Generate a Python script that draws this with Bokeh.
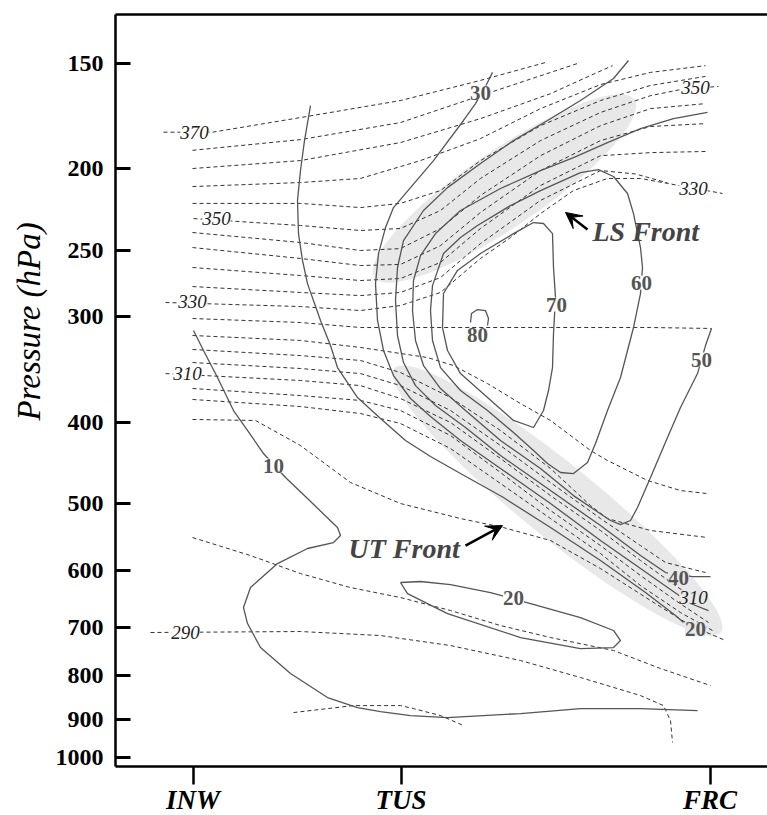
from bokeh.plotting import figure
from bokeh.models import (Range1d, FixedTicker, LinearAxis, ColumnDataSource, LabelSet,
                          Label, Arrow, VeeHead, NumeralTickFormatter, Title)
from bokeh.embed import file_html
from bokeh.resources import INLINE
from bokeh.core.properties import value

# ---------------- data ----------------
station_names = ["INW", "TUS", "FRC"]
station_km = [155, 571, 1189]
pressure_ticks = [150, 200, 250, 300, 400, 500, 600, 700, 800, 900, 1000]

# isotachs (m/s): distance along section (km) and pressure (hPa)
isotach_10_km = [156, 176, 204, 236, 264, 296, 340, 384, 444, 450, 436, 384, 324, 270, 256, 264, 290, 350, 424, 484, 530, 590, 664, 810, 930, 1050, 1164]
isotach_10_hpa = [311.3, 328.8, 354.0, 387.4, 409.1, 435.7, 465.2, 492.7, 533.4, 545.2, 555.7, 564.8, 588.5, 628.4, 663.7, 693.3, 740.3, 794.7, 848.7, 872.2, 881.7, 891.5, 896.3, 886.6, 874.6, 874.6, 879.3]
isotach_20_km = [390, 378, 370, 364, 366, 374, 384, 410, 430, 444, 484, 530, 580, 630, 690, 776, 870, 970, 1060, 1120, 1136]
isotach_20_hpa = [168.4, 185.3, 201.1, 218.2, 238.9, 257.1, 273.9, 302.9, 324.4, 344.5, 373.9, 396.0, 420.5, 439.3, 460.2, 491.4, 533.4, 583.6, 637.0, 678.4, 691.4]
isotach_20b_km = [570, 610, 670, 750, 830, 930, 996, 1010, 996, 930, 810, 664, 584, 570]
isotach_20b_hpa = [619.8, 618.1, 623.2, 637.0, 656.4, 682.1, 706.6, 726.2, 740.3, 742.3, 720.3, 674.7, 638.8, 619.8]
isotach_30_km = [754, 742, 720, 696, 636, 590, 556, 540, 526, 520, 524, 536, 556, 590, 630, 690, 770, 870, 970, 1070, 1150, 1186]
isotach_30_hpa = [153.8, 159.0, 167.5, 175.4, 195.7, 210.7, 222.5, 235.0, 252.3, 273.9, 302.9, 328.8, 352.1, 374.9, 393.8, 420.5, 453.9, 499.5, 552.6, 608.1, 656.4, 669.1]
isotach_40_km = [1026, 996, 930, 864, 796, 730, 664, 616, 576, 564, 560, 564, 576, 600, 640, 700, 770, 870, 970, 1050, 1100, 1154, 1190]
isotach_40_hpa = [148.9, 156.4, 166.1, 175.4, 185.3, 197.3, 210.7, 224.3, 243.5, 262.1, 286.8, 315.6, 339.8, 361.9, 382.2, 405.8, 438.1, 482.1, 530.5, 575.8, 603.1, 609.8, 609.8]
isotach_50_km = [1184, 1116, 1050, 984, 916, 850, 770, 690, 640, 610, 596, 594, 600, 616, 650, 700, 770, 850, 916, 960, 990, 1010, 1030, 1044, 1070, 1104, 1130, 1164, 1180, 1192]
isotach_50_hpa = [171.6, 174.5, 179.3, 186.3, 194.1, 201.1, 211.2, 224.3, 238.9, 253.7, 271.6, 294.8, 319.9, 342.6, 364.8, 387.4, 420.5, 453.9, 488.8, 509.1, 523.2, 529.0, 523.2, 505.0, 465.2, 417.1, 384.3, 350.2, 324.4, 309.6]
isotach_60_km = [930, 966, 996, 1024, 1036, 1050, 1054, 1050, 1036, 1010, 984, 960, 944, 916, 890, 864, 836, 796, 744, 690, 650, 634, 630, 634, 656, 690, 724, 790, 850, 930]
isotach_60_hpa = [202.2, 200.6, 204.4, 214.1, 226.2, 248.2, 262.1, 281.4, 308.8, 354.0, 387.4, 424.0, 446.6, 460.2, 458.9, 447.8, 432.1, 411.4, 387.4, 366.8, 344.5, 319.9, 294.8, 275.4, 252.3, 241.5, 233.7, 221.3, 212.4, 202.2]
isotach_70_km = [836, 856, 874, 876, 880, 876, 874, 866, 856, 836, 796, 744, 690, 664, 654, 656, 684, 730, 796, 836]
isotach_70_hpa = [231.8, 232.4, 238.9, 262.1, 284.5, 313.9, 344.5, 366.8, 387.4, 405.8, 398.1, 373.9, 350.2, 328.8, 308.8, 281.4, 264.2, 252.3, 238.9, 231.8]
isotach_80_km = [710, 712, 724, 740, 746, 744]
isotach_80_hpa = [304.6, 297.2, 294.0, 294.8, 301.3, 307.1]

# isentropes (K)
theta_370_km = [96, 194, 370, 570, 730, 860]
theta_370_hpa = [181.1, 181.1, 174.0, 166.1, 157.2, 149.7]
theta_366_km = [154, 370, 570, 730, 924]
theta_366_hpa = [190.3, 184.8, 176.4, 163.9, 150.1]
theta_362_km = [154, 370, 570, 730, 870, 950, 994]
theta_362_hpa = [200.0, 195.7, 186.3, 174.5, 163.0, 155.1, 151.0]
theta_358_km = [154, 370, 490, 610, 730, 850, 970, 1070, 1180]
theta_358_hpa = [210.1, 207.8, 205.5, 195.7, 184.3, 169.8, 159.0, 153.8, 151.0]
theta_354_km = [154, 370, 490, 570, 650, 730, 850, 970, 1070, 1180]
theta_354_hpa = [220.0, 220.0, 222.5, 220.0, 212.4, 195.7, 177.9, 166.1, 159.4, 155.5]
theta_350_km = [156, 370, 490, 570, 650, 730, 850, 970, 1070, 1130, 1206]
theta_350_hpa = [229.3, 233.7, 236.9, 235.6, 224.3, 205.5, 185.3, 171.6, 163.9, 161.2, 159.8]
theta_346_km = [154, 370, 490, 570, 650, 730, 850, 970, 1070, 1180]
theta_346_hpa = [238.2, 244.8, 250.2, 248.9, 235.6, 215.3, 193.1, 177.9, 169.8, 167.5]
theta_342_km = [154, 370, 490, 570, 650, 730, 850, 970, 1070, 1180]
theta_342_hpa = [248.2, 255.7, 260.7, 259.9, 246.9, 225.5, 201.1, 185.3, 178.3, 176.9]
theta_338_km = [154, 370, 490, 570, 650, 730, 850, 970, 1070, 1180]
theta_338_hpa = [262.1, 267.9, 271.6, 270.1, 258.5, 235.6, 209.5, 193.1, 191.5, 190.9]
theta_334_km = [154, 370, 490, 570, 650, 730, 850, 970, 1040, 1104]
theta_334_hpa = [276.1, 280.6, 283.0, 280.6, 269.4, 245.5, 218.2, 201.1, 203.0, 208.0]
theta_330_km = [100, 370, 490, 570, 650, 730, 790, 850, 916, 984, 1050, 1104, 1214]
theta_330_hpa = [288.4, 291.6, 294.8, 290.8, 280.6, 255.7, 241.5, 226.2, 212.4, 205.5, 205.5, 208.3, 214.1]
theta_326_km = [154, 370, 490, 670, 870, 1070, 1192]
theta_326_hpa = [301.3, 304.6, 308.8, 308.8, 308.8, 308.8, 309.6]
theta_322_km = [154, 370, 490, 624, 676, 744, 810, 870, 950, 984, 1064, 1130, 1184]
theta_322_hpa = [315.6, 319.9, 326.1, 335.2, 342.6, 359.9, 380.1, 398.1, 432.1, 444.1, 469.0, 482.1, 486.1]
theta_318_km = [154, 370, 490, 570, 670, 770, 870, 950, 984, 1070, 1184]
theta_318_hpa = [327.9, 333.4, 337.9, 349.2, 373.9, 409.1, 453.9, 502.3, 520.4, 537.7, 548.1]
theta_314_km = [154, 370, 490, 570, 670, 770, 870, 970, 1050, 1100, 1180]
theta_314_hpa = [339.8, 345.4, 350.2, 361.9, 387.4, 426.3, 471.6, 520.4, 560.3, 586.8, 603.1]
theta_310_km = [100, 370, 490, 570, 670, 770, 870, 970, 1050, 1114, 1146]
theta_310_hpa = [350.2, 356.9, 361.9, 374.9, 400.3, 441.7, 488.8, 537.7, 583.6, 621.5, 640.5]
theta_306_km = [154, 370, 490, 570, 670, 770, 870, 970, 1050, 1120, 1186]
theta_306_hpa = [364.8, 371.9, 376.9, 387.4, 414.8, 458.9, 509.1, 560.3, 608.1, 651.0, 691.4]
theta_302_km = [154, 370, 490, 570, 670, 770, 870, 970, 1050, 1130, 1194]
theta_302_hpa = [375.9, 383.2, 390.6, 401.4, 429.8, 472.9, 520.4, 572.6, 624.9, 672.8, 706.6]
theta_298_km = [154, 280, 370, 470, 570, 690, 776, 870, 970, 1070, 1150, 1220]
theta_298_hpa = [397.0, 398.1, 426.3, 471.6, 499.5, 520.4, 533.4, 552.6, 596.6, 651.0, 697.1, 726.2]
theta_294_km = [154, 270, 370, 470, 570, 670, 770, 870, 996, 1090, 1190]
theta_294_hpa = [548.1, 575.8, 604.8, 628.4, 645.8, 669.1, 697.1, 720.3, 746.3, 784.0, 821.3]
theta_290_km = [70, 370, 530, 670, 810, 930, 1050, 1096, 1110, 1114]
theta_290_hpa = [710.5, 708.6, 716.4, 736.3, 767.0, 803.5, 844.1, 867.5, 903.6, 959.4]
theta_286_km = [356, 476, 570, 596, 650, 696]
theta_286_hpa = [884.2, 867.5, 867.5, 874.6, 891.5, 916.1]

# contour labels
wind_label_text = ["10", "20", "30", "50", "60", "70", "80"]
wind_label_km = [316, 796, 730, 1172, 1052, 882, 724]
wind_label_hpa = [450.2, 645.8, 162.5, 337.0, 273.1, 290.0, 315.6]
wind_label_front_text = ["40", "20"]
wind_label_front_km = [1126, 1160]
wind_label_front_hpa = [611.4, 704.6]
theta_label_text = ["370", "350", "330", "310", "290", "350", "330"]
theta_label_km = [158, 202, 154, 144, 140, 1160, 1156]
theta_label_hpa = [181.1, 229.3, 287.6, 350.2, 710.5, 160.3, 211.2]
theta_label_front_text = ["310"]
theta_label_front_km = [1156]
theta_label_front_hpa = [645.8]

# ---------------- figure ----------------
p = figure(frame_width=652, frame_height=752, x_range=Range1d(0, 1304), y_range=Range1d(1024.6, 131.3),
           y_axis_type="log", output_backend="svg", toolbar_location=None,
           min_border_left=115, min_border_right=0, min_border_top=14, min_border_bottom=49)
p.outline_line_color = None
p.xgrid.visible = False
p.ygrid.visible = False

SERIF = "Liberation Serif"

yax = p.yaxis[0]
yax.ticker = FixedTicker(ticks=pressure_ticks)
yax.formatter = NumeralTickFormatter(format="0")
yax.major_tick_in = 15
yax.major_tick_out = 0
yax.major_tick_line_width = 3
yax.minor_tick_line_color = None
yax.axis_line_width = 2.5
yax.major_label_text_font = SERIF
yax.major_label_text_font_style = "bold"
yax.major_label_text_font_size = "24px"
yax.major_label_text_color = "black"
yax.major_label_standoff = 12

xax = p.xaxis[0]
xax.ticker = FixedTicker(ticks=station_km)
xax.major_label_overrides = {k: n for k, n in zip(station_km, station_names)}
xax.major_tick_in = 0
xax.major_tick_out = 18
xax.major_tick_line_width = 2.5
xax.minor_tick_line_color = None
xax.axis_line_width = 2.5
xax.major_label_text_font = SERIF
xax.major_label_text_font_style = "bold italic"
xax.major_label_text_font_size = "27px"
xax.major_label_text_color = "black"
xax.major_label_standoff = 0

top = LinearAxis(ticker=FixedTicker(ticks=[]), axis_line_width=2.5,
                 major_label_text_font_size="0px", major_tick_line_color=None,
                 minor_tick_line_color=None)
p.add_layout(top, "above")

# y-axis title, placed towards the upper part of the axis as in the original
p.add_layout(Title(text="Pressure (hPa)", align="left", offset=346, vertical_align="top",
                   standoff=8, text_font=SERIF, text_font_style="italic",
                   text_font_size="33px", text_color="black"), "left")

# frontal zones (shaded)
SHADE = "#e8e8e8"
p.ellipse(x=[778], y=[211.2], width=[315], height=[76], angle=[0.60],
          width_units="screen", height_units="screen", fill_color=SHADE, line_color=None)
p.ellipse(x=[884], y=[495.4], width=[420], height=[74], angle=[-0.68],
          width_units="screen", height_units="screen", fill_color=SHADE, line_color=None)

isotachs = [
    (isotach_10_km, isotach_10_hpa), (isotach_20_km, isotach_20_hpa),
    (isotach_20b_km, isotach_20b_hpa), (isotach_30_km, isotach_30_hpa),
    (isotach_40_km, isotach_40_hpa), (isotach_50_km, isotach_50_hpa),
    (isotach_60_km, isotach_60_hpa), (isotach_70_km, isotach_70_hpa),
    (isotach_80_km, isotach_80_hpa),
]
isentropes = [
    (theta_370_km, theta_370_hpa), (theta_366_km, theta_366_hpa), (theta_362_km, theta_362_hpa),
    (theta_358_km, theta_358_hpa), (theta_354_km, theta_354_hpa), (theta_350_km, theta_350_hpa),
    (theta_346_km, theta_346_hpa), (theta_342_km, theta_342_hpa), (theta_338_km, theta_338_hpa),
    (theta_334_km, theta_334_hpa), (theta_330_km, theta_330_hpa), (theta_326_km, theta_326_hpa),
    (theta_322_km, theta_322_hpa), (theta_318_km, theta_318_hpa), (theta_314_km, theta_314_hpa),
    (theta_310_km, theta_310_hpa), (theta_306_km, theta_306_hpa), (theta_302_km, theta_302_hpa),
    (theta_298_km, theta_298_hpa), (theta_294_km, theta_294_hpa), (theta_290_km, theta_290_hpa),
    (theta_286_km, theta_286_hpa),
]

p.multi_line(xs=[c[0] for c in isentropes], ys=[c[1] for c in isentropes],
             line_color="#333333", line_width=1.0, line_dash="4 3")
p.multi_line(xs=[c[0] for c in isotachs], ys=[c[1] for c in isotachs],
             line_color="#555555", line_width=1.3)

def labels(text, xs, ys, style, size, color, bg):
    src = ColumnDataSource(dict(x=xs, y=ys, t=text))
    ls = LabelSet(x="x", y="y", text="t", source=src, text_align="center",
                  text_baseline="middle", text_font=value(SERIF), text_font_style=style,
                  text_font_size=size, text_color=color, background_fill_color=bg)
    p.add_layout(ls)

labels(wind_label_text, wind_label_km, wind_label_hpa, "bold", "21px", "#555555", "white")
labels(wind_label_front_text, wind_label_front_km, wind_label_front_hpa, "bold", "21px", "#555555", SHADE)
labels(theta_label_text, theta_label_km, theta_label_hpa, "italic", "19px", "#222222", "white")
labels(theta_label_front_text, theta_label_front_km, theta_label_front_hpa, "italic", "19px", "#222222", SHADE)

# annotations
p.add_layout(Label(x=954, y=237.6, text="LS Front", text_font=SERIF, text_font_style="bold italic",
                   text_font_size="28px", text_baseline="middle", text_align="left"))
p.add_layout(Label(x=466, y=564.8, text="UT Front", text_font=SERIF, text_font_style="bold italic",
                   text_font_size="28px", text_baseline="middle", text_align="left"))
p.add_layout(Arrow(end=VeeHead(size=16, fill_color="black", line_color="black"),
                   x_start=944, y_start=236.3, x_end=900, y_end=225.5, line_width=2.5))
p.add_layout(Arrow(end=VeeHead(size=16, fill_color="black", line_color="black"),
                   x_start=700, y_start=560.3, x_end=774, y_end=530.5, line_width=2.5))

open("out.html", "w").write(file_html(p, INLINE))
